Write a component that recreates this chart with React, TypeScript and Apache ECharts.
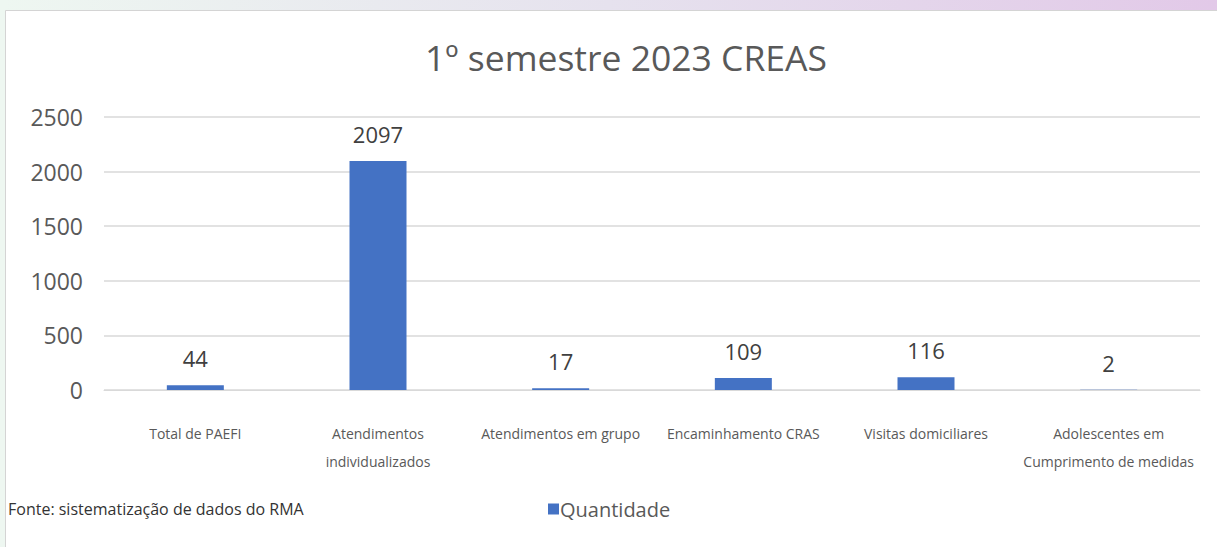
import React, { useEffect, useRef } from "react";
import * as echarts from "echarts";

const categories = [
  "Total de PAEFI",
  "Atendimentos\nindividualizados",
  "Atendimentos em grupo",
  "Encaminhamento CRAS",
  "Visitas domiciliares",
  "Adolescentes em\nCumprimento de medidas",
];
const quantidade = [44, 2097, 17, 109, 116, 2];
const yTicks = { min: 0, max: 2500, interval: 500 };
const titleText = "1º semestre 2023 CREAS";
const sourceText = "Fonte: sistematização de dados do RMA";
const seriesName = "Quantidade";

export default function App() {
  const ref = useRef<HTMLDivElement>(null);
  useEffect(() => {
    if (!ref.current) return;
    const chart = echarts.init(ref.current, null, { renderer: "svg" });
    chart.setOption({
      animation: false,
      textStyle: { fontFamily: "Open Sans" },
      graphic: [
        {
          type: "rect",
          z: -10,
          silent: true,
          shape: { x: 0, y: 0, width: 1217, height: 11 },
          style: {
            fill: new echarts.graphic.LinearGradient(0, 0, 1, 0, [
              { offset: 0, color: "#eef7f1" },
              { offset: 0.5, color: "#e6e2ee" },
              { offset: 1, color: "#e2c9e8" },
            ]),
          },
        },
        {
          type: "rect",
          z: -10,
          silent: true,
          shape: { x: 0, y: 0, width: 5, height: 547 },
          style: { fill: "#eef7f1" },
        },
        {
          type: "polyline",
          z: -9,
          silent: true,
          shape: { points: [[5.5, 547], [5.5, 10.5], [1217, 10.5]] },
          style: { stroke: "#d4d4d4", lineWidth: 1, fill: "none" },
        },
        {
          type: "text",
          left: 8,
          top: 501,
          style: {
            text: sourceText,
            fontSize: 16,
            fill: "#333333",
            fontFamily: "Open Sans",
          },
        },
      ],
      title: {
        text: titleText,
        left: 621,
        textAlign: "center",
        top: 34,
        textStyle: {
          fontSize: 35.5,
          fontWeight: "normal",
          color: "#595959",
          fontFamily: "Open Sans",
        },
      },
      legend: {
        data: [seriesName],
        left: 543,
        top: 494,
        itemWidth: 11,
        itemHeight: 11,
        itemGap: 5,
        icon: "rect",
        textStyle: { fontSize: 20, color: "#595959", fontFamily: "Open Sans", padding: [0, 0, 0, -4] },
      },
      grid: { left: 104, right: 17, top: 117, bottom: 157, containLabel: false },
      xAxis: {
        type: "category",
        data: categories,
        axisLine: { lineStyle: { color: "#d9d9d9" } },
        axisTick: { show: false },
        axisLabel: {
          interval: 0,
          fontSize: 14,
          color: "#595959",
          margin: 29,
          lineHeight: 28,
          verticalAlign: "top",
        },
      },
      yAxis: {
        type: "value",
        min: yTicks.min,
        max: yTicks.max,
        interval: yTicks.interval,
        axisLine: { show: false },
        axisTick: { show: false },
        splitLine: { lineStyle: { color: "#d9d9d9", width: 1.5 } },
        axisLabel: {
          fontSize: 23,
          color: "#595959",
          margin: 21,
          formatter: (v: number) => String(v),
        },
      },
      series: [
        {
          name: seriesName,
          type: "bar",
          data: quantidade,
          barWidth: 57,
          itemStyle: { color: "#4472C4" },
          label: {
            show: true,
            position: "top",
            distance: 16,
            fontSize: 22,
            color: "#404040",
          },
        },
      ],
    });
    return () => chart.dispose();
  }, []);
  return (
    <div
      ref={ref}
      style={{ position: "absolute", left: 0, top: 0, width: 1217, height: 547, background: "#ffffff" }}
    />
  );
}
